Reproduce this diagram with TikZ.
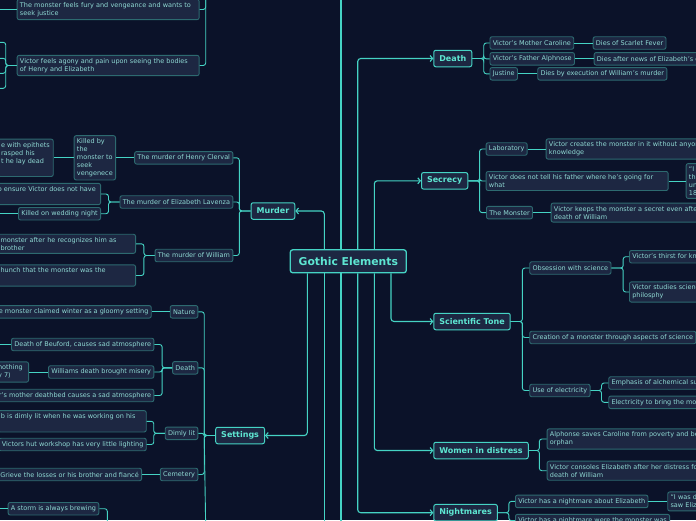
\documentclass[tikz,border=0pt]{standalone}
\usepackage{fontspec}
\setmainfont{DejaVu Sans}
\usetikzlibrary{arrows.meta}
\definecolor{bgnavy}{HTML}{0B1229}
\definecolor{boxfill}{HTML}{1D2742}
\definecolor{boxedge}{HTML}{2D6A70}
\definecolor{wire}{HTML}{45D3C4}
\definecolor{subtext}{HTML}{8FD9D3}
\definecolor{toptext}{HTML}{5EE6D2}
\begin{document}
\begin{tikzpicture}
[x=1pt, y=-1pt, font=\fontsize{6.5}{8}\selectfont]
\tikzstyle{central}=[draw=wire, fill=boxfill, line width=1.3pt, rounded corners=2.5pt, text=toptext, font=\fontsize{10.8}{13}\selectfont\bfseries, minimum width=116, minimum height=23]
\tikzstyle{topic}=[draw=wire, fill=boxfill, line width=1pt, rounded corners=2pt, text=toptext, font=\fontsize{8}{10}\selectfont\bfseries, inner xsep=5.5pt, minimum height=16.5]
\tikzstyle{idea}=[draw=boxedge, fill=boxfill, line width=0.9pt, rounded corners=2pt, text=subtext, inner xsep=2.8pt, inner ysep=3pt, minimum height=12.5, align=left]
\tikzstyle{link}=[draw=wire, line width=1.1pt, rounded corners=3pt]
\tikzstyle{twig}=[draw=wire, line width=0.9pt, rounded corners=2.5pt]
\tikzstyle{arrowed}=[-{Straight Barb[length=2.5pt,width=6pt]}]

\fill[bgnavy] (0,0) rectangle (696,520);
\useasboundingbox (0,0) rectangle (696,520);
\clip (0,0) rectangle (696,520);

\node[central]	(GE)	at (348.3,261.3) {Gothic Elements};

\node[topic]	(death)		at (433.3,58.5)	[anchor=west] {Death};
\node[topic]	(secrecy)	at (421,180.8)	[anchor=west] {Secrecy};
\node[topic]	(science)	at (433.3,321.5)	[anchor=west] {Scientific Tone};
\node[topic]	(women)		at (433.3,450.5)	[anchor=west] {Women in distress};
\node[topic]	(nightmares)	at (433.3,512.7)	[anchor=west] {Nightmares};
\node[topic]	(murder)	at (295.3,211)	[anchor=east] {Murder};
\node[topic]	(settings)	at (265,435.5)	[anchor=east] {Settings};

\coordinate (upmain) at (341,-8);
\coordinate (downa) at (324.3,528);
\coordinate (downb) at (341,528);

\draw[link, arrowed] ([xshift=9.4]GE.north) |- (death);
\draw[link, arrowed] ([xshift=26]GE.north) |- (secrecy);
\draw[link, arrowed] ([xshift=42.7]GE.south) |- (science);
\draw[link, arrowed] ([xshift=26]GE.south) |- (women);
\draw[link, arrowed] ([xshift=9.4]GE.south) |- (nightmares);
\draw[link, arrowed] ([xshift=-24]GE.north) |- (murder);
\draw[link, arrowed] ([xshift=-41]GE.south) |- (settings);
\draw[link] ([xshift=-7.3]GE.north) -- (upmain);
\draw[link] ([xshift=-24]GE.south) -- (downa);
\draw[link] ([xshift=-7.3]GE.south) -- (downb);

\node[idea]	(mother)	at (489.5,43)	[anchor=west] {Victor's Mother Caroline};
\node[idea]	(father)	at (489.5,58.8)	[anchor=west] {Victor's Father Alphnose};
\node[idea]	(justine)	at (489.5,73.8)	[anchor=west] {Justine};
\node[idea]	(fever)		at (592.7,43)	[anchor=west] {Dies of Scarlet Fever};
\node[idea]	(news)		at (593.7,58.8)	[anchor=west] {Dies after news of Elizabeth's death};
\node[idea]	(execution)	at (537.3,73.8)	[anchor=west] {Dies by execution of William's murder};
\foreach \n in {mother,father,justine} \draw[twig] (death.east) -- ++(11.5,0) |- (\n.west);
\draw[twig] (mother) -- (fever);
\draw[twig] (father) -- (news);
\draw[twig] (justine) -- (execution);

\node[idea]	(lab)		at (485.7,149)	[anchor=west] {Laboratory};
\node[idea]	(tell)		at (485.7,181)	[anchor=west, text width=176.4] {Victor does not tell his father where he's going for\\what};
\node[idea]	(hidden)	at (486,212.6)	[anchor=west] {The Monster};
\node[idea]	(creates)	at (545.7,149)	[anchor=west, text width=176.4] {Victor creates the monster in it without anyone's\\knowledge};
\node[idea]	(quoteone)	at (685.7,181)	[anchor=west] {“I\\th\\un\\18};
\node[idea]	(keeps)		at (550.7,212.6)	[anchor=west, text width=176.4] {Victor keeps the monster a secret even after the\\death of William};
\foreach \n in {lab,tell,hidden} \draw[twig] (secrecy.east) -- ++(11.3,0) |- (\n.west);
\draw[twig] (lab) -- (creates);
\draw[twig] (tell) -- (quoteone);
\draw[twig] (hidden) -- (keeps);

\node[idea]	(obsession)	at (529.3,268)	[anchor=west] {Obsession with science};
\node[idea]	(creation)	at (529.3,337.5)	[anchor=west] {Creation of a monster through aspects of science};
\node[idea]	(electricity)	at (529.3,390.5)	[anchor=west] {Use of electricity};
\node[idea]	(thirst)	at (629,256.7)	[anchor=west] {Victor's thirst for knowledge};
\node[idea]	(studies)	at (629,292)	[anchor=west, text width=176.4] {Victor studies science and natural\\philosphy};
\node[idea]	(alchemy)	at (608.3,383)	[anchor=west] {Emphasis of alchemical subjects};
\node[idea]	(spark)		at (608.3,402.3)	[anchor=west] {Electricity to bring the monster to life};
\foreach \n in {obsession,creation,electricity} \draw[twig] (science.east) -- ++(11.7,0) |- (\n.west);
\foreach \n in {thirst,studies} \draw[twig] (obsession.east) -- ++(11.7,0) |- (\n.west);
\foreach \n in {alchemy,spark} \draw[twig] (electricity.east) -- ++(11,0) |- (\n.west);

\node[idea]	(saves)		at (546.7,439)	[anchor=west, text width=176.4] {Alphonse saves Caroline from poverty and being an\\orphan};
\node[idea]	(consoles)	at (546.7,470.7)	[anchor=west, text width=176.4] {Victor consoles Elizabeth after her distress for the\\death of William};
\foreach \n in {saves,consoles} \draw[twig] (women.east) -- ++(10.6,0) |- (\n.west);

\node[idea]	(dream)		at (515,501.4)	[anchor=west] {Victor has a nightmare about Elizabeth};
\node[idea]	(quotetwo)	at (667.3,501.4)	[anchor=west, text width=176.4] {“I was disturbed by the wildest dreams. I thought I\\saw Elizabeth};
\node[idea]	(dreamtwo)	at (515,520.6)	[anchor=west] {Victor has a nightmare were the monster was};
\foreach \n in {dream,dreamtwo} \draw[twig] (nightmares.east) -- ++(11,0) |- (\n.west);
\draw[twig] (dream) -- (quotetwo);

\node[idea]	(henry)		at (233.3,157.8)	[anchor=east] {The murder of Henry Clerval};
\node[idea]	(lavenza)	at (233.3,202)	[anchor=east] {The murder of Elizabeth Lavenza};
\node[idea]	(william)	at (233.3,255.5)	[anchor=east] {The murder of William};
\foreach \n in {henry,lavenza,william} \draw[twig] (murder.west) -- ++(-11.3,0) |- (\n.east);

\node[idea]	(vengeance)	at (116,157.8)	[anchor=east] {Killed by\\the\\monster to\\seek\\vengenece};
\node[idea]	(epithets)	at (53.7,157.8)	[anchor=east, text width=49.4] {e with epithets\\rasped his\\t he lay dead\\\strut};
\draw[twig] (henry) -- (vengeance);
\draw[twig] (vengeance) -- (epithets);

\node[idea]	(ensure)	at (101,194)	[anchor=east, text width=99.9] {o ensure Victor does not have\\\strut};
\node[idea]	(wedding)	at (101,213.7)	[anchor=east] {Killed on wedding night};
\coordinate (weddingchild) at (-4,213.7);
\foreach \n in {ensure,wedding} \draw[twig] (lavenza.west) -- ++(-11,0) |- (\n.east);
\draw[twig] (wedding) -- (weddingchild);

\node[idea]	(recognizes)	at (136,243.8)	[anchor=east, text width=132.2] {monster after he recognizes him as\\brother};
\node[idea]	(hunch)		at (136,275.5)	[anchor=east, text width=132.2] {hunch that the monster was the\\\strut};
\foreach \n in {recognizes,hunch} \draw[twig] (william.west) -- ++(-10.7,0) |- (\n.east);

\node[idea]	(fury)		at (16.7,9.5)	[anchor=west, text width=176.4] {The monster feels fury and vengeance and wants to\\seek justice};
\node[idea]	(agony)		at (16.7,65.5)	[anchor=west, text width=176.4] {Victor feels agony and pain upon seeing the bodies\\of Henry and Elizabeth};
\coordinate (furyparent) at (205.7,-8);
\coordinate (furychild) at (-4,9.5);
\draw[twig] (fury.east) -| (furyparent);
\draw[twig] (agony.east) -| (furyparent);
\draw[twig] (fury) -- (furychild);
\coordinate (agonya) at (-4,42.3);
\coordinate (agonyb) at (-4,58.3);
\coordinate (agonyc) at (-4,73.3);
\coordinate (agonyd) at (-4,88.3);
\foreach \n in {agonya,agonyb,agonyc,agonyd} \draw[twig] (agony.west) -- ++(-11,0) |- (\n);

\node[idea]	(nature)	at (198.3,311.8)	[anchor=east] {Nature};
\node[idea]	(sdeath)	at (198.3,367.8)	[anchor=east] {Death};
\node[idea]	(dimly)		at (198.3,433.3)	[anchor=east] {Dimly lit};
\node[idea]	(cemetery)	at (198.3,474.5)	[anchor=east] {Cemetery};
\coordinate (setdown) at (205.7,528);
\foreach \n in {nature,sdeath,dimly,cemetery} \draw[twig] (settings.west) -- ++(-11,0) |- (\n.east);
\draw[twig] (settings.west) -- ++(-11,0) -- (setdown);

\node[idea]	(winter)	at (151.7,311.8)	[anchor=east] {e monster claimed winter as a gloomy setting};
\draw[twig] (nature) -- (winter);

\node[idea]	(beuford)	at (154.3,344.5)	[anchor=east] {Death of Beuford, causes sad atmosphere};
\node[idea]	(misery)	at (154.3,372)	[anchor=east] {Williams death brought misery};
\node[idea]	(deathbed)	at (154.3,395.5)	[anchor=east] {r's mother deathbed causes a sad atmosphere};
\node[idea]	(nothing)	at (29,372)	[anchor=east, text width=27.7] {nothing\\y 7)};
\coordinate (beufordchild) at (-4,344.5);
\foreach \n in {beuford,misery,deathbed} \draw[twig] (sdeath.west) -- ++(-10,0) |- (\n.east);
\draw[twig] (beuford) -- (beufordchild);
\draw[twig] (misery) -- (nothing);

\node[idea]	(dimlab)	at (146.7,421.3)	[anchor=east, text width=142.5] {b is dimly lit when he was working on his\\\strut};
\node[idea]	(hut)		at (146.7,444.5)	[anchor=east] {Victors hut workshop has very little lighting};
\foreach \n in {dimlab,hut} \draw[twig] (dimly.west) -- ++(-11,0) |- (\n.east);

\node[idea]	(grieve)	at (142,474.5)	[anchor=east] {Grieve the losses or his brother and fiancé};
\draw[twig] (cemetery) -- (grieve);

\node[idea]	(storm)		at (7.7,508.7)	[anchor=west] {A storm is always brewing};
\coordinate (stormparent) at (107.3,528);
\coordinate (stormchild) at (-4,508.7);
\draw[twig] (storm.east) -| (stormparent);
\draw[twig] (storm) -- (stormchild);
\end{tikzpicture}
\end{document}
